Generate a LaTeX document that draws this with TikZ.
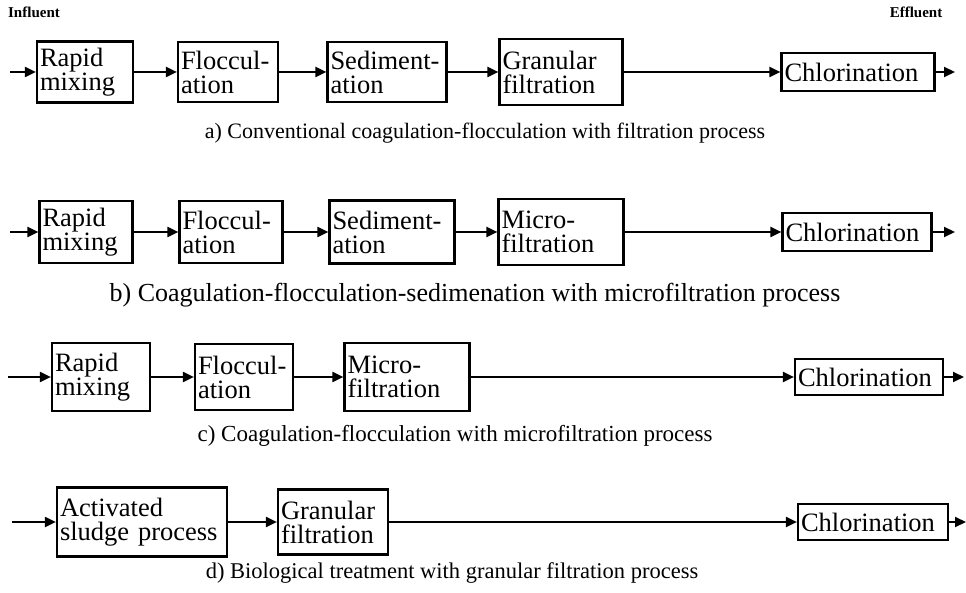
\documentclass[tikz,border=0pt]{standalone}
\usepackage{fontspec}
\setmainfont{Liberation Serif}
\usetikzlibrary{arrows.meta}

\begin{document}
\begin{tikzpicture}[
    x=1pt,y=-1pt,
    unit/.style={draw=black,line width=2.2pt,align=left,inner xsep=3pt,inner ysep=2pt,font=\fontsize{26.5}{24}\selectfont},
    caption/.style={font=\fontsize{22}{22}\selectfont},
    endlabel/.style={font=\fontsize{15}{15}\selectfont\bfseries},
    flow/.style={-{Triangle[length=11pt,width=10pt]},draw=black,line width=2pt}
  ]
    \useasboundingbox (0,0) rectangle (966,593);

    % a) conventional
    \node[endlabel] (influent) at (34,12) {Influent};
    \node[endlabel] (effluent) at (916,12) {Effluent};
    \coordinate (ain) at (10,72);
    \node[unit,text width=90pt,minimum height=61pt] (amix) at (85,72) {Rapid\\mixing};
    \node[unit,text width=94pt,minimum height=60pt] (afloc) at (228,72) {Floccul-\\ation};
    \node[unit,text width=113pt,minimum height=60pt] (ased) at (387,72) {Sediment-\\ation};
    \node[unit,text width=117pt,minimum height=66pt] (agran) at (561,72) {Granular\\filtration};
    \node[unit,text width=147pt,minimum height=38pt] (achlor) at (858,72) {Chlorination};
    \coordinate (aout) at (955,72);
    \draw[flow] (ain) -- (amix.west);
    \draw[flow] (amix.east) -- (afloc.west);
    \draw[flow] (afloc.east) -- (ased.west);
    \draw[flow] (ased.east) -- (agran.west);
    \draw[flow] (agran.east) -- (achlor.west);
    \draw[flow] (achlor.east) -- (aout);
    \node[caption] (acap) at (485,133) {a) Conventional coagulation-flocculation with filtration process};

    % b) with microfiltration
    \coordinate (bin) at (10,232);
    \node[unit,text width=87pt,minimum height=62pt] (bmix) at (86,232) {Rapid\\mixing};
    \node[unit,text width=97pt,minimum height=62pt] (bfloc) at (231,232) {Floccul-\\ation};
    \node[unit,text width=119pt,minimum height=63pt] (bsed) at (392,232) {Sediment-\\ation};
    \node[unit,text width=119pt,minimum height=66pt] (bmicro) at (561,232) {Micro-\\filtration};
    \node[unit,text width=143pt,minimum height=38pt] (bchlor) at (857,232) {Chlorination};
    \coordinate (bout) at (955,232);
    \draw[flow] (bin) -- (bmix.west);
    \draw[flow] (bmix.east) -- (bfloc.west);
    \draw[flow] (bfloc.east) -- (bsed.west);
    \draw[flow] (bsed.east) -- (bmicro.west);
    \draw[flow] (bmicro.east) -- (bchlor.west);
    \draw[flow] (bchlor.east) -- (bout);
    \node[caption,font=\fontsize{26}{26}\selectfont] (bcap) at (475,295) {b) Coagulation-flocculation-sedimenation with microfiltration process};

    % c) without sedimentation
    \coordinate (cin) at (8,377);
    \node[unit,text width=92pt,minimum height=68pt] (cmix) at (101,377) {Rapid\\mixing};
    \node[unit,text width=92pt,minimum height=66pt] (cfloc) at (244,377) {Floccul-\\ation};
    \node[unit,text width=119pt,minimum height=68pt] (cmicro) at (407,377) {Micro-\\filtration};
    \node[unit,text width=142pt,minimum height=36pt] (cchlor) at (869,377) {Chlorination};
    \coordinate (cout) at (964,377);
    \draw[flow] (cin) -- (cmix.west);
    \draw[flow] (cmix.east) -- (cfloc.west);
    \draw[flow] (cfloc.east) -- (cmicro.west);
    \draw[flow] (cmicro.east) -- (cchlor.west);
    \draw[flow] (cchlor.east) -- (cout);
    \node[caption,font=\fontsize{23}{23}\selectfont] (ccap) at (455,436) {c) Coagulation-flocculation with microfiltration process};

    % d) biological
    \coordinate (din) at (12,522);
    \node[unit,text width=164pt,minimum height=69pt] (dsludge) at (142,522) {Activated\\sludge process};
    \node[unit,text width=104pt,minimum height=65pt] (dgran) at (333,522) {Granular\\filtration};
    \node[unit,text width=144pt,minimum height=36pt] (dchlor) at (873,522) {Chlorination};
    \coordinate (dout) at (966,522);
    \draw[flow] (din) -- (dsludge.west);
    \draw[flow] (dsludge.east) -- (dgran.west);
    \draw[flow] (dgran.east) -- (dchlor.west);
    \draw[flow] (dchlor.east) -- (dout);
    \node[caption,font=\fontsize{22.5}{22.5}\selectfont] (dcap) at (452,573) {d) Biological treatment with granular filtration process};
  \end{tikzpicture}
\end{document}
